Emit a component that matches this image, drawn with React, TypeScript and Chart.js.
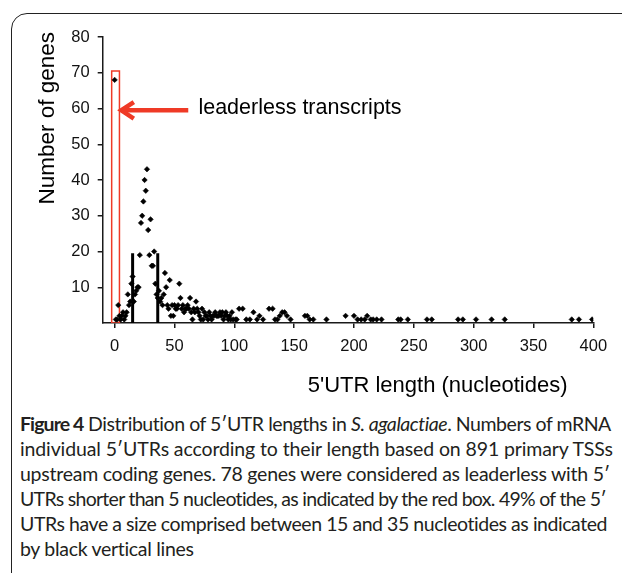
import React, { useEffect, useRef } from "react";
import { Chart, registerables } from "chart.js";

Chart.register(...registerables);

// 5'UTR length (nucleotides)
const utrLengths = [
  0, 1, 2, 3, 4, 5, 6, 7, 8, 9, 10, 11, 12, 13, 14, 15, 16, 17, 18, 19, 20,
  21, 22, 23, 24, 25, 26, 27, 28, 29, 30, 31, 32, 33, 34, 35,
  36, 37, 38, 39, 40, 41, 42, 43, 44, 45, 46, 47, 48, 49, 50, 51, 52, 53, 54,
  55, 56, 57, 58, 59, 60, 61, 62, 63, 64, 65, 66, 67, 68, 69, 70, 71, 72, 73,
  74, 75, 76, 77, 78, 79, 80, 81, 82, 83, 84, 85, 86, 87, 88, 89, 90, 91, 92,
  93, 94, 95, 96, 97, 98, 99,
  101, 102, 104, 107, 110, 113, 116, 119, 121, 124, 129, 132, 134, 136, 138,
  140, 142, 144, 147, 159, 161, 163, 166, 177, 193, 200, 203, 206, 209, 211,
  214, 216, 219, 223, 237, 239, 245, 261, 265, 287, 291, 302, 315, 326, 382,
  388, 399,
];

// Number of genes
const geneCounts = [
  68, 1, 1, 5, 2, 1, 2, 3, 1, 2, 3, 8, 5, 6, 11, 13, 6, 8, 9, 10, 10,
  19, 28, 30, 34, 40, 37, 43, 26, 19, 29, 16, 16, 20, 11, 8,
  7, 9, 6, 7, 5, 8, 14, 10, 5, 4, 12, 2, 5, 2, 5, 4, 4, 5, 11,
  7, 4, 5, 3, 4, 4, 5, 4, 7, 3, 1, 4, 3, 6, 4, 3, 2, 1, 4,
  1, 3, 2, 2, 1, 3, 2, 1, 2, 2, 3, 2, 2, 2, 3, 2, 3, 1, 2,
  3, 2, 1, 2, 1, 3, 1,
  1, 1, 4, 4, 1, 1, 3, 1, 2, 1, 4, 4, 1, 1, 2,
  3, 3, 2, 1, 2, 2, 1, 1, 1, 2, 2, 1, 1, 1, 2,
  1, 1, 1, 1, 1, 1, 1, 1, 1, 1, 1, 1, 1, 1, 1,
  1, 1,
];

const xTickValues = [0, 50, 100, 150, 200, 250, 300, 350, 400];
const yTickValues = [10, 20, 30, 40, 50, 60, 70, 80];

// red box around the leaderless transcripts
const boxX = [-2.5, -2.5, 4, 4, -2.5];
const boxY = [0, 70.5, 70.5, 0, 0];

// black vertical lines marking the 15-35 nt range
const rangeLineX = [15, 36];
const rangeLineTop = 19.5;

// arrow
const arrowShaftX = [61.5, 5.5];
const arrowShaftY = [59.5, 59.5];
const arrowHeadX = [16, 5.5, 16];
const arrowHeadY = [61.8, 59.5, 57.2];
const arrowLabel = "leaderless transcripts";
const arrowLabelX = 70;
const arrowLabelY = 58.4;

const xTitle = "5'UTR length (nucleotides)";
const yTitle = "Number of genes";

const RED = "#ef3a26";
const AXIS = "#1a1a1a";
const FONT = "'Liberation Sans', Arial, sans-serif";

const pts = (xs: number[], ys: number[]) => xs.map((x, i) => ({ x, y: ys[i] }));

const labelPlugin = {
  id: "labels",
  afterDraw(chart: any) {
    const { ctx, scales, chartArea } = chart;
    const xs = scales.x;
    const ys = scales.y;
    ctx.save();
    ctx.fillStyle = "#000";
    ctx.font = `21.5px ${FONT}`;
    ctx.textBaseline = "alphabetic";
    ctx.textAlign = "left";
    ctx.fillText(arrowLabel, xs.getPixelForValue(arrowLabelX), ys.getPixelForValue(arrowLabelY));
    // x title
    ctx.font = `22px ${FONT}`;
    ctx.fillText(xTitle, chartArea.left + 205, chartArea.bottom + 69.3);
    // y title
    ctx.font = `22.5px ${FONT}`;
    ctx.translate(chartArea.left - 48.5, chartArea.top - 5);
    ctx.rotate(-Math.PI / 2);
    ctx.textAlign = "right";
    ctx.fillText(yTitle, 0, 0);
    ctx.restore();
  },
};

const captionLines: { t: string; b?: boolean; i?: boolean }[][] = [
  [
    { t: "Figure 4", b: true },
    { t: " Distribution of 5\u2032UTR lengths in " },
    { t: "S. agalactiae", i: true },
    { t: ". Numbers of mRNA" },
  ],
  [{ t: "individual 5\u2032UTRs according to their length based on 891 primary TSSs" }],
  [{ t: "upstream coding genes. 78 genes were considered as leaderless with 5\u2032" }],
  [{ t: "UTRs shorter than 5 nucleotides, as indicated by the red box. 49% of the 5\u2032" }],
  [{ t: "UTRs have a size comprised between 15 and 35 nucleotides as indicated" }],
  [{ t: "by black vertical lines" }],
];
const captionTracking = [-0.45, -0.12, -0.25, -0.72, -0.45, -0.3];

export default function App() {
  const canvasRef = useRef<HTMLCanvasElement | null>(null);

  useEffect(() => {
    if (!canvasRef.current) return;
    const lineDs = (data: any[], color: string, width: number) => ({
      type: "line" as const,
      data,
      borderColor: color,
      backgroundColor: color,
      borderWidth: width,
      pointRadius: 0,
      fill: false,
      tension: 0,
      showLine: true,
      borderJoinStyle: "miter" as const,
      borderCapStyle: "butt" as const,
    });
    const chart = new Chart(canvasRef.current, {
      type: "scatter",
      data: {
        datasets: [
          {
            data: pts(utrLengths, geneCounts),
            pointStyle: "rectRot",
            pointRadius: 2.7,
            pointBackgroundColor: "#000",
            pointBorderColor: "#000",
            pointBorderWidth: 0.6,
            showLine: false,
          } as any,
          lineDs(pts(boxX, boxY), RED, 1.5),
          lineDs(pts([rangeLineX[0], rangeLineX[0]], [0, rangeLineTop]), "#000", 3),
          lineDs(pts([rangeLineX[1], rangeLineX[1]], [0, rangeLineTop]), "#000", 3),
          lineDs(pts(arrowShaftX, arrowShaftY), RED, 4.5),
          lineDs(pts(arrowHeadX, arrowHeadY), RED, 4.5),
        ],
      },
      options: {
        animation: false,
        responsive: false,
        devicePixelRatio: 1,
        layout: { padding: { left: 0, top: 37, right: 28.7, bottom: 0 } },
        plugins: { legend: { display: false }, tooltip: { enabled: false } },
        scales: {
          x: {
            type: "linear",
            min: -10,
            max: 400,
            afterBuildTicks: (s: any) => {
              s.ticks = xTickValues.map((v) => ({ value: v }));
            },
            afterFit: (s: any) => {
              s.height = 77;
            },
            ticks: {
              color: "#111",
              font: { family: FONT, size: 16.5 },
              padding: 9,
              maxRotation: 0,
              autoSkip: false,
            },
            grid: {
              display: true,
              drawOnChartArea: false,
              drawTicks: true,
              tickLength: 5,
              color: AXIS,
              lineWidth: 1.5,
            },
            border: { display: true, color: AXIS, width: 1.5 },
          },
          y: {
            type: "linear",
            min: 0,
            max: 80,
            afterBuildTicks: (s: any) => {
              s.ticks = yTickValues.map((v) => ({ value: v }));
            },
            afterFit: (s: any) => {
              s.width = 102.7;
            },
            ticks: {
              color: "#111",
              font: { family: FONT, size: 16.5 },
              padding: 8,
              autoSkip: false,
            },
            grid: {
              display: true,
              drawOnChartArea: false,
              drawTicks: true,
              tickLength: 5,
              color: AXIS,
              lineWidth: 1.5,
            },
            border: { display: true, color: AXIS, width: 1.5 },
          },
        },
      },
      plugins: [labelPlugin],
    } as any);
    return () => chart.destroy();
  }, []);

  return (
    <div
      style={{
        position: "fixed",
        left: 0,
        top: 0,
        width: 622,
        height: 573,
        overflow: "hidden",
        background: "#fff",
      }}
    >
      <div
        style={{
          position: "absolute",
          left: 11,
          top: 13,
          width: 700,
          height: 700,
          border: "1.5px solid #222",
          borderTopLeftRadius: 16,
          boxSizing: "border-box",
        }}
      />
      <canvas
        ref={canvasRef}
        width={622}
        height={400}
        style={{ position: "absolute", left: 0, top: 0, width: 622, height: 400 }}
      />
      <div
        style={{
          position: "absolute",
          left: 20,
          top: 411,
          fontFamily: "Lato, 'Open Sans', sans-serif",
          fontSize: 19.5,
          lineHeight: "25px",
          color: "#231f20",
          whiteSpace: "nowrap",
        }}
      >
        {captionLines.map((line, li) => (
          <div key={li} style={{ letterSpacing: `${captionTracking[li]}px` }}>
            {line.map((seg, si) => (
              <span
                key={si}
                style={{
                  fontWeight: seg.b ? 700 : 400,
                  fontStyle: seg.i ? "italic" : "normal",
                  letterSpacing: seg.b ? "-0.9px" : undefined,
                }}
              >
                {seg.t}
              </span>
            ))}
          </div>
        ))}
      </div>
    </div>
  );
}
